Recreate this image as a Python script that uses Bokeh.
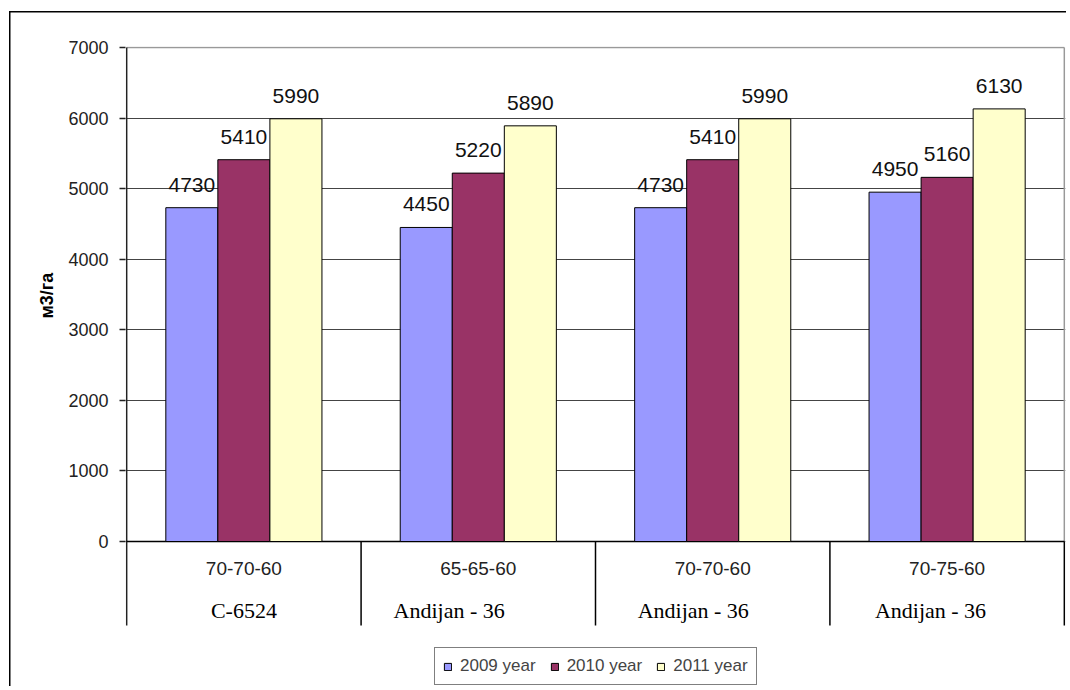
from bokeh.plotting import figure
from bokeh.models import Range1d, FixedTicker, Legend, LegendItem, Title
from bokeh.core.properties import value
from bokeh.embed import file_html
from bokeh.resources import INLINE

norms = ["70-70-60", "65-65-60", "70-70-60", "70-75-60"]
varieties = ["C-6524", "Andijan - 36", "Andijan - 36", "Andijan - 36"]
variety_pos = [0.5, 1.376, 2.417, 3.429]
years = ["2009 year", "2010 year", "2011 year"]
v2009 = [4730, 4450, 4730, 4950]
v2010 = [5410, 5220, 5410, 5160]
v2011 = [5990, 5890, 5990, 6130]
y_ticks = [0, 1000, 2000, 3000, 4000, 5000, 6000, 7000]
y_label = "м3/га"
colors = ["#9999FF", "#993366", "#FFFFCC"]

series = [v2009, v2010, v2011]
n = len(norms)
bar_w = 0.222
y_max = 7000

# layout constants (pixels)
W, H = 1066, 686
plot_px = 494          # height of the 0..7000 value area
below_px = 145         # space below the zero line
k = plot_px / y_max    # px per unit
sep_px = 84            # separator length below zero line

p = figure(width=W, height=H, output_backend="svg", toolbar_location=None,
           x_range=Range1d(-0.005, n + 0.005),
           y_range=Range1d(-below_px / k, y_max + 1 / k),
           x_axis_type=None,
           min_border_left=125, min_border_right=1, min_border_top=46,
           min_border_bottom=0)
p.title.visible = False
p.extra_y_ranges = {"px": Range1d(-below_px, plot_px + 1)}
p.background_fill_color = "white"
p.border_fill_color = None
p.outline_line_color = None
p.styles = {"box-shadow": "inset 9px 11px 0 0 white, inset 10.5px 12.5px 0 0 black",
            "background-color": "white"}

# y axis (ticks + labels); the axis line is drawn as a segment below
p.yaxis.ticker = FixedTicker(ticks=y_ticks)
p.yaxis.minor_tick_line_color = None
p.yaxis.major_tick_in = 0
p.yaxis.major_tick_out = 6
p.yaxis.major_tick_line_color = "#222222"
p.yaxis.major_tick_line_width = 1.5
p.yaxis.axis_line_color = None
p.yaxis.major_label_standoff = 11
p.yaxis.major_label_text_font = "Liberation Sans"
p.yaxis.major_label_text_font_size = "18px"
p.yaxis.major_label_text_color = "#222222"

p.add_layout(Title(text=y_label, align="left", offset=368, vertical_align="bottom",
                   standoff=18, text_font="Liberation Sans", text_font_size="18px",
                   text_font_style="bold", text_color="black"), "left")

p.ygrid.ticker = FixedTicker(ticks=y_ticks[:-1])
p.ygrid.grid_line_color = "#444444"
p.ygrid.grid_line_width = 1

# frame lines, zero line and category separators
p.segment(x0=[0], y0=[y_max], x1=[n], y1=[y_max], line_color="#999999", line_width=1.5)
p.segment(x0=[n], y0=[0], x1=[n], y1=[plot_px], y_range_name="px",
          line_color="#999999", line_width=1.5)
p.segment(x0=[0], y0=[-sep_px], x1=[0], y1=[plot_px], y_range_name="px",
          line_color="#222222", line_width=1.5)
p.segment(x0=list(range(1, n + 1)), y0=[-sep_px] * n, x1=list(range(1, n + 1)),
          y1=[0] * n, y_range_name="px", line_color="black", line_width=1.5)
p.segment(x0=[0], y0=[0], x1=[n], y1=[0], line_color="black", line_width=1.5)

renderers = []
for j, vals in enumerate(series):
    xs = [i + 0.5 + (j - 1) * bar_w for i in range(n)]
    r = p.vbar(x=xs, top=vals, width=bar_w, fill_color=colors[j],
               line_color="black", line_width=1)
    renderers.append(r)
    p.text(x=xs, y=vals, text=[str(v) for v in vals], text_align="center",
           text_baseline="middle", y_offset=-23,
           text_font=value("Liberation Sans"), text_font_size="21px",
           text_color="#111111")

# two-level category labels
p.text(x=[i + 0.5 for i in range(n)], y=[-27] * n, text=norms, y_range_name="px",
       text_align="center", text_baseline="middle",
       text_font=value("Liberation Sans"), text_font_size="19px",
       text_color="#222222")
p.text(x=variety_pos, y=[-69] * n, text=varieties, y_range_name="px",
       text_align="center", text_baseline="middle",
       text_font=value("Liberation Serif"), text_font_size="22px",
       text_color="black")

legend = Legend(items=[LegendItem(label=years[j], renderers=[renderers[j]])
                       for j in range(3)],
                orientation="horizontal", location=(309, 1),
                border_line_color="black", border_line_width=1.5,
                padding=8, spacing=14, margin=0,
                glyph_width=9, glyph_height=9, label_standoff=8,
                label_text_font="Liberation Sans", label_text_font_size="17px",
                background_fill_color="white", background_fill_alpha=1)
p.add_layout(legend, "center")

open("out.html", "w").write(file_html(p, INLINE))
